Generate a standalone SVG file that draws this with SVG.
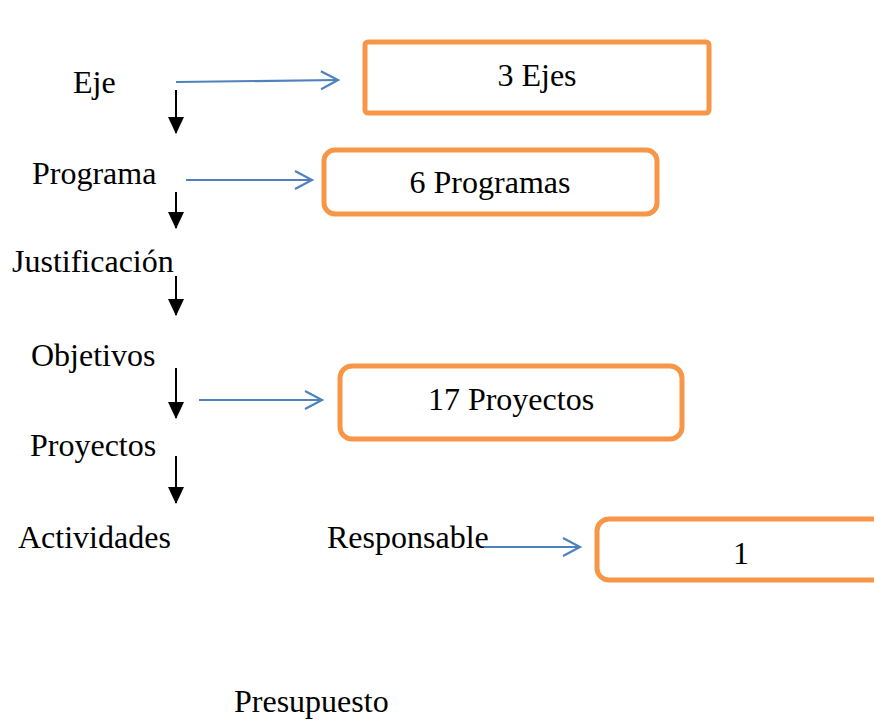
<svg xmlns="http://www.w3.org/2000/svg" width="874" height="720" viewBox="0 0 874 720">
<style>
text{font-family:"Liberation Serif","Times New Roman",serif;font-size:32px;fill:#000}
.box{fill:#fff;stroke:#F79646;stroke-width:5}
.blue{stroke:#4F81BD;stroke-width:2.2;fill:none}
.blk{stroke:#000;stroke-width:2;fill:none}
</style>
<defs>
<marker id="open" markerWidth="22" markerHeight="24" refX="18" refY="10" orient="auto" markerUnits="userSpaceOnUse"><path d="M1,1 L18,10 L1,19" fill="none" stroke="#4F81BD" stroke-width="2.2"/></marker>
<marker id="tri" markerWidth="16" markerHeight="18" refX="8" refY="16" orient="0" markerUnits="userSpaceOnUse"><path d="M0,0 L16,0 L8,17 Z" fill="#000"/></marker>
</defs>
<rect width="874" height="720" fill="#fff"/>
<circle cx="567" cy="46" r="2.2" fill="#000"/>
<g id="labels" font-family="Liberation Serif, serif">
<text x="73" y="93">Eje</text>
<text x="32" y="184">Programa</text>
<text x="12" y="272">Justificación</text>
<text x="31" y="366">Objetivos</text>
<text x="30" y="456">Proyectos</text>
<text x="18" y="548">Actividades</text>
<text x="327" y="548">Responsable</text>
<text x="234" y="712">Presupuesto</text>
</g>
<g id="n-ejes"><rect class="box" x="365" y="42" width="344" height="71" rx="3"/><text x="537" y="86" text-anchor="middle">3 Ejes</text></g>
<g id="n-programas"><rect class="box" x="324" y="150" width="333" height="64" rx="11"/><text x="490" y="193" text-anchor="middle">6 Programas</text></g>
<g id="n-proyectos"><rect class="box" x="340" y="366" width="342" height="73" rx="12"/><text x="511" y="410" text-anchor="middle">17 Proyectos</text></g>
<g id="n-1"><rect class="box" x="597" y="519" width="290" height="61" rx="12"/><text x="741" y="564" text-anchor="middle">1</text></g>
<g id="connectors">
<line class="blue" x1="176" y1="82" x2="338" y2="80" marker-end="url(#open)"/>
<line class="blue" x1="186" y1="180" x2="312" y2="180" marker-end="url(#open)"/>
<line class="blue" x1="199" y1="400" x2="322" y2="400" marker-end="url(#open)"/>
<line class="blue" x1="484" y1="547" x2="580" y2="547" marker-end="url(#open)"/>
<line class="blk" x1="176" y1="90" x2="176" y2="133" marker-end="url(#tri)"/>
<line class="blk" x1="176" y1="192" x2="176" y2="228" marker-end="url(#tri)"/>
<line class="blk" x1="176" y1="276" x2="176" y2="315" marker-end="url(#tri)"/>
<line class="blk" x1="176" y1="368" x2="176" y2="418" marker-end="url(#tri)"/>
<line class="blk" x1="176" y1="456" x2="176" y2="503" marker-end="url(#tri)"/>
</g>
</svg>
